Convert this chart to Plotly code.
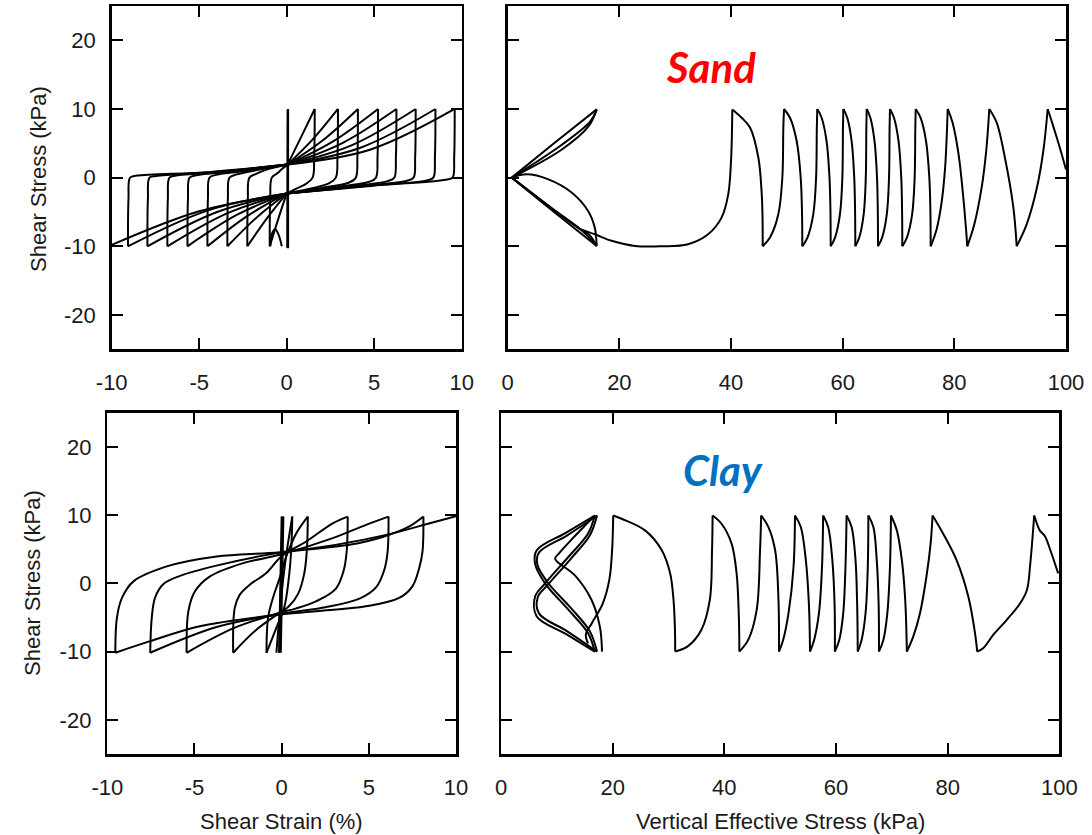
import plotly.graph_objects as go

# ------------------------------------------------------------------
# Data (stress in kPa, strain in %)
# Each curve = list of (x, y) vertices, drawn as smoothed lines
# ------------------------------------------------------------------

# ---- Sand: shear stress vs shear strain (top-left) ----
SAND_SS_UNLOAD = [  # from positive peaks down to lower convergence point
    [(1.6, 10), (1.57, 3), (1.48, 0), (1.1, -0.9), (0.55, -1.6), (0.0, -2.3)],
    [(2.93, 10), (2.9, 3), (2.81, 0), (2.43, -0.8), (1.45, -1.55), (0.0, -2.3)],
    [(4.07, 10), (4.04, 3), (3.95, 0), (3.57, -0.7), (2.0, -1.5), (0.0, -2.3)],
    [(5.22, 10), (5.19, 3), (5.1, 0), (4.72, -0.6), (2.6, -1.45), (0.0, -2.3)],
    [(6.27, 10), (6.24, 3), (6.15, 0), (5.77, -0.5), (3.1, -1.4), (0.0, -2.3)],
    [(7.37, 10), (7.34, 3), (7.25, 0), (6.87, -0.45), (3.7, -1.35), (0.0, -2.3)],
    [(8.5, 10), (8.47, 3), (8.38, 0), (8.0, -0.4), (4.2, -1.3), (0.0, -2.3)],
    [(9.6, 10), (9.57, 3), (9.48, 0), (9.1, -0.3), (4.8, -1.2), (0.0, -2.3)],
]
SAND_SS_LOAD_FAN = [  # from upper convergence point up to positive peaks
    [(0.05, 1.9), (0.8, 5.8), (1.6, 10)],
    [(0.05, 1.9), (1.5, 5.6), (2.93, 10)],
    [(0.05, 1.9), (2.05, 5.4), (4.07, 10)],
    [(0.05, 1.9), (2.6, 5.2), (5.22, 10)],
    [(0.05, 1.9), (3.15, 5.0), (6.27, 10)],
    [(0.05, 1.9), (3.7, 4.7), (7.37, 10)],
    [(0.05, 1.9), (4.25, 4.4), (8.5, 10)],
    [(0.05, 1.9), (4.8, 4.1), (9.6, 10)],
]
SAND_SS_LOAD = [  # from negative troughs up to upper convergence point
    [(-0.97, -10), (-0.94, -3), (-0.85, 0), (-0.5, 0.7), (-0.25, 1.3), (0.05, 1.9)],
    [(-2.25, -10), (-2.22, -3), (-2.13, 0), (-1.75, 0.55), (-1.1, 1.2), (0.05, 1.9)],
    [(-3.39, -10), (-3.36, -3), (-3.27, 0), (-2.89, 0.45), (-1.7, 1.1), (0.05, 1.9)],
    [(-4.53, -10), (-4.5, -3), (-4.41, 0), (-4.03, 0.4), (-2.25, 1.0), (0.05, 1.9)],
    [(-5.67, -10), (-5.64, -3), (-5.55, 0), (-5.17, 0.35), (-2.8, 0.95), (0.05, 1.9)],
    [(-6.82, -10), (-6.79, -3), (-6.7, 0), (-6.32, 0.3), (-3.4, 0.9), (0.05, 1.9)],
    [(-7.96, -10), (-7.93, -3), (-7.84, 0), (-7.46, 0.25), (-4.0, 0.85), (0.05, 1.9)],
    [(-9.07, -10), (-9.04, -3), (-8.95, 0), (-8.57, 0.3), (-4.5, 0.8), (0.05, 1.9)],
]
SAND_SS_UNLOAD_FAN = [  # from lower convergence point down to negative troughs
    [(0.0, -2.3), (-0.48, -6.0), (-0.97, -10)],
    [(0.0, -2.3), (-1.12, -5.9), (-2.25, -10)],
    [(0.0, -2.3), (-1.7, -5.75), (-3.39, -10)],
    [(0.0, -2.3), (-2.26, -5.6), (-4.53, -10)],
    [(0.0, -2.3), (-2.83, -5.4), (-5.67, -10)],
    [(0.0, -2.3), (-3.41, -5.2), (-6.82, -10)],
    [(0.0, -2.3), (-3.98, -5.0), (-7.96, -10)],
    [(0.0, -2.3), (-4.53, -4.8), (-9.07, -10)],
    [(0.0, -2.3), (-5.0, -4.9), (-10.0, -9.8)],
]
SAND_SS_FIRST = [  # first cycles near zero strain
    [(0.08, -10.3), (0.08, 10)],
    [(0.03, -10.2), (0.05, 9.9)],
    [(-0.93, -10), (-0.85, -8.2), (-0.65, -7.5), (-0.45, -8.4), (-0.28, -10)],
]

# ---- Sand: shear stress vs vertical effective stress (top-right) ----
SAND_PATH = [
    [(0.72, 0), (8.3, 5.0), (15.94, 9.94)],
    [(0.72, 0), (9.7, 4.1), (14.5, 7.5), (15.94, 9.94)],
    [(0.9, 0.1), (9.7, 4.8), (14.8, 8.2), (15.94, 9.94)],
    [(0.72, 0), (8.3, -5.0), (15.94, -9.96)],
    [(0.72, 0), (8.0, -4.5), (13.6, -7.9), (15.94, -9.96)],
    [(0.9, -0.1), (7.5, -4.3), (12.95, -7.5)],
    [(12.95, -7.5), (14.5, -8.2), (15.94, -9.96)],
    [(0.72, 0), (3.4, 0.48), (7.3, -0.25), (11.5, -2.2), (14.4, -4.86), (15.6, -7.3), (15.94, -9.96)],
    [(12.95, -7.5), (15.6, -8.25), (18.6, -9.2), (22.8, -9.95), (27.6, -10.0), (32.3, -9.7),
     (35.9, -8.25), (38.3, -5.82), (39.5, -2.43), (40.0, 2.42), (40.15, 6.0), (40.23, 9.94)],
    [(40.23, 9.94), (41.9, 8.73), (43.4, 7.3), (44.9, 2.9), (45.5, -2.4), (45.65, -6.0), (45.67, -10)],
    [(45.67, -10), (46.98, -8.73), (48.47, -5.34), (49.19, 0), (49.37, 7.28), (49.49, 10)],
    [(49.49, 10), (50.56, 8.73), (51.76, 5.34), (52.48, 0), (52.71, -4.86), (52.77, -10)],
    [(52.77, -10), (53.69, -8.73), (54.73, -5.34), (55.24, 0), (55.37, 7.28), (55.45, 10)],
    [(55.45, 10), (56.23, 8.73), (57.11, 5.34), (57.64, 0), (57.81, -4.86), (57.85, -10)],
    [(57.85, -10), (58.63, -8.73), (59.51, -5.34), (59.94, 0), (60.05, 7.28), (60.12, 10)],
    [(60.12, 10), (60.82, 8.73), (61.6, 5.34), (62.07, 0), (62.22, -4.86), (62.26, -10)],
    [(62.26, -10), (62.96, -8.73), (63.76, -5.34), (64.14, 0), (64.24, 7.28), (64.3, 10)],
    [(64.3, 10), (64.96, 8.73), (65.7, 5.34), (66.15, 0), (66.29, -4.86), (66.33, -10)],
    [(66.33, -10), (67.06, -8.73), (67.9, -5.34), (68.3, 0), (68.4, 7.28), (68.47, 10)],
    [(68.47, 10), (69.19, 8.73), (70.0, 5.34), (70.49, 0), (70.64, -4.86), (70.68, -10)],
    [(70.68, -10), (71.5, -8.73), (72.44, -5.34), (72.89, 0), (73.01, 7.28), (73.08, 10)],
    [(73.08, 10), (73.95, 8.73), (74.93, 5.34), (75.52, 0), (75.71, -4.86), (75.76, -10)],
    [(75.76, -10), (76.83, -7.5), (77.74, -3.5), (78.35, 1.5), (78.66, 6.5), (78.81, 10)],
    [(78.81, 10), (79.69, 8.0), (80.74, 3.5), (81.62, -3.0), (82.14, -8.0), (82.32, -10)],
    [(82.32, -10), (83.58, -6.8), (84.88, -1.5), (85.71, 3.9), (86.26, 10)],
    [(86.26, 10), (87.59, 8.0), (89.06, 2.9), (90.58, -4.4), (91.17, -10)],
    [(91.17, -10), (92.95, -6.8), (94.78, -1.5), (95.94, 3.9), (96.72, 10)],
    [(96.72, 10), (97.6, 7.8), (98.8, 4.6), (100.0, 1.2)],
]

# ---- Clay: shear stress vs shear strain (bottom-left) ----
CLAY_SS_UNLOAD = [
    [(8.13, 9.78), (8.08, 4.67), (7.89, 2.24), (7.5, -0.44), (6.74, -2.14), (4.84, -3.36),
     (1.98, -4.09), (-0.11, -4.57), (-4.69, -6.28), (-7.54, -8.47), (-9.54, -10.17)],
    [(6.13, 9.78), (6.08, 4.67), (5.89, 2.0), (5.41, -0.6), (4.5, -2.2), (2.5, -3.5),
     (-0.11, -4.5), (-3.73, -6.4), (-7.54, -10.17)],
    [(3.79, 9.78), (3.73, 4.67), (3.55, 1.8), (3.1, -0.8), (2.0, -2.6), (0.8, -3.7),
     (-0.11, -4.3), (-2.78, -6.6), (-5.45, -10.17)],
    [(1.5, 9.78), (1.45, 5.0), (1.3, 1.5), (0.95, -1.5), (0.4, -3.4), (-0.11, -4.3),
     (-1.5, -6.9), (-2.78, -10.17)],
    [(0.61, 9.78), (0.55, 5.0), (0.4, 0.5), (0.15, -3.5), (-0.3, -6.5), (-0.87, -10.17)],
]
CLAY_SS_LOAD = [
    [(-9.54, -10.17), (-9.45, -5.06), (-9.16, -2.14), (-8.5, 0.29), (-6.59, 2.48), (-3.73, 3.94),
     (-0.11, 4.57), (3.0, 5.6), (6.0, 7.1), (8.5, 8.8), (10.0, 9.85)],
    [(-7.54, -10.17), (-7.45, -5.06), (-7.26, -2.1), (-6.78, -0.1), (-5.83, 1.1), (-3.74, 2.6),
     (-0.06, 4.5), (3.88, 5.65), (5.79, 6.8), (7.3, 8.3), (8.13, 9.78)],
    [(-5.45, -10.17), (-5.35, -4.09), (-4.97, -1.17), (-4.11, 1.02), (-2.21, 2.97), (-0.11, 4.18),
     (2.93, 6.62), (4.84, 8.57), (6.13, 9.78)],
    [(-2.78, -10.17), (-2.69, -3.6), (-2.4, -1.65), (-1.83, -0.2), (-0.88, 1.51), (-0.02, 3.94),
     (1.41, 6.13), (2.93, 8.8), (3.79, 9.78)],
    [(-0.87, -10.17), (-0.78, -5.06), (-0.5, -2.14), (-0.11, 0.8), (0.27, 3.94), (0.84, 7.35), (1.5, 9.78)],
    [(-0.3, -10.17), (-0.1, -4.0), (0.2, 3.0), (0.61, 9.78)],
]
CLAY_SS_FIRST = [
    [(-0.15, -10.17), (0.0, 9.78)],
    [(-0.11, -10.17), (0.04, 9.78)],
    [(-0.05, -10.17), (0.1, 9.78)],
]

# ---- Clay: shear stress vs vertical effective stress (bottom-right) ----
CLAY_PATH = [
    [(16.8, 9.94), (11.6, 7.4), (6.4, 4.85), (6.1, 2.9), (7.9, 0), (12.1, -3.9), (15.6, -7.3), (16.8, -10)],
    [(16.8, -10), (11.6, -7.4), (6.4, -4.85), (6.1, -1.94), (7.9, 0), (12.1, 3.9), (15.6, 7.3), (16.8, 9.94)],
    [(17.2, 9.94), (11.8, 7.0), (6.8, 4.5), (6.5, 2.8), (8.3, 0.2), (12.5, -3.6), (15.9, -7.0), (17.2, -10)],
    [(17.2, -10), (11.8, -7.0), (6.8, -4.4), (6.6, -2.0), (8.4, -0.2), (12.5, 3.6), (15.9, 7.0), (17.2, 9.94)],
    [(16.8, 9.94), (12.5, 6.3), (10.4, 4.4), (9.7, 3.6), (13.2, 1.2), (16.2, -2.4), (17.7, -6.3), (18.1, -10)],
    [(15.6, -8.8), (15.2, -7.5), (16.3, -5.8), (18.2, -3.0), (19.4, 0.5), (19.9, 4.85), (20.1, 9.94)],
    [(20.1, 9.94), (21.6, 9.46), (25.8, 7.76), (28.8, 4.85), (30.3, 1.46), (30.9, -2.43), (31.15, -6.5), (31.2, -10)],
    [(31.2, -10), (33.5, -9.2), (35.9, -6.8), (37.4, -2.43), (37.8, 4.85), (37.9, 9.94)],
    [(37.9, 9.94), (39.5, 8.73), (41.3, 5.82), (42.2, 1.46), (42.6, -4.86), (42.7, -10)],
    [(42.7, -10), (44.3, -8.25), (45.8, -3.88), (46.4, 4.85), (46.6, 9.94)],
    [(46.6, 9.94), (47.9, 8.24), (49.1, 4.85), (49.7, -2.43), (49.8, -10)],
    [(49.8, -10), (50.55, -8.25), (51.5, -4.37), (52.4, 2.43), (52.66, 9.94)],
    [(52.66, 9.94), (53.7, 8.25), (54.6, 3.4), (55.17, -3.4), (55.35, -10)],
    [(55.35, -10), (56.1, -8.25), (56.95, -4.37), (57.5, 2.43), (57.7, 9.94)],
    [(57.7, 9.94), (58.6, 8.25), (59.35, 3.4), (59.76, -3.4), (59.8, -10)],
    [(59.8, -10), (60.6, -8.25), (61.3, -4.37), (61.7, 2.43), (61.9, 9.94)],
    [(61.9, 9.94), (62.8, 8.25), (63.5, 3.4), (63.8, -3.4), (63.9, -10)],
    [(63.9, -10), (64.6, -8.25), (65.3, -4.37), (65.7, 2.43), (65.8, 9.94)],
    [(65.8, 9.94), (66.7, 8.25), (67.3, 3.4), (67.65, -3.4), (67.7, -10)],
    [(67.7, -10), (68.5, -8.25), (69.2, -4.37), (69.67, 2.43), (69.85, 9.94)],
    [(69.85, 9.94), (70.9, 7.76), (71.8, 3.4), (72.4, -2.43), (72.7, -10)],
    [(72.7, -10), (73.85, -7.77), (75.05, -4.37), (76.2, 0.97), (76.95, 5.82), (77.3, 9.94)],
    [(77.3, 9.94), (79.2, 7.28), (81.6, 3.4), (83.7, -1.94), (84.9, -7.28), (85.3, -10)],
    [(85.3, -10), (86.4, -9.46), (88.2, -7.52), (90.6, -5.34), (93.0, -2.91), (94.2, -0.97),
     (94.8, 2.9), (95.5, 9.94)],
    [(95.5, 9.94), (96.5, 7.76), (96.9, 7.4), (97.5, 6.8), (98.4, 4.85), (99.8, 1.46)],
]

STRAIN_TICKS = [-10, -5, 0, 5, 10]
STRAIN_TICKTEXT = ["-10", "-5", "0", "5", "10"]
SIGMA_TICKS = [0, 20, 40, 60, 80, 100]
SIGMA_TICKTEXT = ["0", "20", "40", "60", "80", "100"]
TAU_TICKS = [-20, -10, 0, 10, 20]
TAU_TICKTEXT = ["-20", "-10", "0", "10", "20"]


def flatten(*groups):
    xs, ys = [], []
    for group in groups:
        for curve in group:
            for x, y in curve:
                xs.append(x)
                ys.append(y)
            xs.append(None)
            ys.append(None)
    return xs, ys


fig = go.Figure()

panels = [
    ((SAND_SS_UNLOAD, SAND_SS_LOAD_FAN, SAND_SS_LOAD, SAND_SS_UNLOAD_FAN, SAND_SS_FIRST), "x", "y"),
    ((SAND_PATH,), "x2", "y2"),
    ((CLAY_SS_UNLOAD, CLAY_SS_LOAD, CLAY_SS_FIRST), "x3", "y3"),
    ((CLAY_PATH,), "x4", "y4"),
]
for groups, xa, ya in panels:
    xs, ys = flatten(*groups)
    fig.add_trace(go.Scatter(
        x=xs, y=ys, mode="lines", xaxis=xa, yaxis=ya,
        line=dict(color="black", width=2, shape="spline", smoothing=1.0),
        connectgaps=False, hoverinfo="skip", showlegend=False,
    ))

FONT = "Liberation Sans, Arial, Helvetica, sans-serif"
tickfont = dict(family=FONT, size=22, color="#1a1a1a")


def axis(domain, rng, vals, text, anchor, labels=True, standoff=8):
    return dict(
        domain=domain, range=rng, anchor=anchor, automargin=False,
        tickmode="array", tickvals=vals, ticktext=text,
        ticks="inside", ticklen=11, tickwidth=2, tickcolor="black",
        showline=True, linewidth=2.5, linecolor="black", mirror="ticks",
        showgrid=False, zeroline=False, showticklabels=labels,
        tickfont=tickfont, ticklabelstandoff=standoff, fixedrange=True,
    )


W, H = 1092, 835
top_y = [1 - 349.3 / H, 1 - 6 / H]
bot_y = [1 - 754 / H, 1 - 412.7 / H]

fig.update_layout(
    width=W, height=H,
    margin=dict(l=0, r=0, t=0, b=0, autoexpand=False),
    paper_bgcolor="white", plot_bgcolor="white",
    xaxis=axis([111.7 / W, 461.7 / W], [-10, 10], STRAIN_TICKS, STRAIN_TICKTEXT, "y", standoff=12),
    yaxis=axis(top_y, [-25, 25], TAU_TICKS, TAU_TICKTEXT, "x", standoff=9),
    xaxis2=axis([507.7 / W, 1066 / W], [0, 100], SIGMA_TICKS, SIGMA_TICKTEXT, "y2", standoff=12),
    yaxis2=axis(top_y, [-25, 25], TAU_TICKS, TAU_TICKTEXT, "x2", labels=False),
    xaxis3=axis([107.3 / W, 456 / W], [-10, 10], STRAIN_TICKS, STRAIN_TICKTEXT, "y3", standoff=12),
    yaxis3=axis(bot_y, [-25, 25], TAU_TICKS, TAU_TICKTEXT, "x3", standoff=9),
    xaxis4=axis([501 / W, 1059.3 / W], [0, 100], SIGMA_TICKS, SIGMA_TICKTEXT, "y4", standoff=12),
    yaxis4=axis(bot_y, [-25, 25], TAU_TICKS, TAU_TICKTEXT, "x4", labels=False),
    hovermode=False,
)

title_font = dict(family=FONT, size=22, color="#1a1a1a")
annotations = [
    dict(text="Shear Stress (kPa)", x=38 / W, y=1 - 179 / H, textangle=-90, font=title_font),
    dict(text="Shear Stress (kPa)", x=32 / W, y=1 - 583 / H, textangle=-90, font=title_font),
    dict(text="Shear Strain (%)", x=281 / W, y=1 - 821 / H, font=title_font),
    dict(text="Vertical Effective Stress (kPa)", x=780 / W, y=1 - 821 / H, font=title_font),
    dict(text="<b><i>Sand</i></b>", x=711 / W, y=1 - 67 / H,
         font=dict(family="Lato, Open Sans, sans-serif", size=42, color="#FF0000")),
    dict(text="<b><i>Clay</i></b>", x=723 / W, y=1 - 470 / H,
         font=dict(family="Lato, Open Sans, sans-serif", size=42, color="#0070C0")),
]
for a in annotations:
    a.update(xref="paper", yref="paper", showarrow=False, xanchor="center", yanchor="middle")
fig.update_layout(annotations=annotations)

fig.write_html("out.html", config={"displayModeBar": False, "staticPlot": True},
               post_script="document.body.style.margin='0';")
